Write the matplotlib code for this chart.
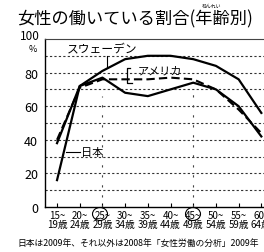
import matplotlib
matplotlib.use("Agg")
import matplotlib.pyplot as plt
from matplotlib.patches import Ellipse

plt.rcParams['font.family'] = ['Noto Sans CJK JP', 'DejaVu Sans']

# ---- data ----
age_top = ["15~", "20~", "25~", "30~", "35~", "40~", "45~", "50~", "55~", "60~"]
age_bottom = ["19歳", "24歳", "29歳", "34歳", "39歳", "44歳", "49歳", "54歳", "59歳", "64歳"]
japan = [16, 72, 77, 68, 66, 70, 74, 70, 60, 42]
usa = [40, 71, 76, 76, 76, 77, 76, 70, 58, 44]
sweden = [38, 72, 81, 88, 90, 90, 88, 84, 76, 56]
y_ticks = [0, 20, 40, 60, 80]
y_top = 100
grid_vals = [10, 20, 30, 40, 50, 60, 70, 80, 90]
title = "女性の働いている割合(年齢別)"
note = "日本は2009年、それ以外は2008年「女性労働の分析」2009年"

W, H = 264, 253
fig = plt.figure(figsize=(W / 100, H / 100), dpi=100)
fig.patch.set_facecolor("white")

def px(x, y):
    return (x / W, 1 - y / H)

ax = fig.add_axes([45 / W, (H - 208) / H, 227 / W, 168 / H])
ax.set_xlim(-0.53, 9.47)
ax.set_ylim(0, y_top)
ax.spines["right"].set_visible(False)
ax.spines["top"].set_color("#444444")
ax.spines["top"].set_linewidth(0.8)
ax.spines["left"].set_linewidth(1.0)
ax.spines["bottom"].set_linewidth(1.0)

for g in grid_vals:
    ax.axhline(g, color="#333333", lw=0.8, ls=(0, (2, 2)), zorder=1)

xs = list(range(len(age_top)))
ax.plot(xs, sweden, color="black", lw=1.6, zorder=3)
ax.plot(xs, japan, color="black", lw=1.6, zorder=3)
ax.plot(xs, usa, color="black", lw=1.5, ls=(0, (4, 2)), zorder=3)

# hand-drawn vertical marks at 25 and 45
ax.plot([2, 2], [0, 66], color="#444444", lw=0.8, ls=(0, (2, 7)), zorder=2)
ax.plot([6, 6], [0, 70], color="#444444", lw=0.8, ls=(0, (2, 7)), zorder=2)

ax.set_yticks(y_ticks)
ax.set_yticklabels([str(v) for v in y_ticks], fontsize=9)
ax.tick_params(axis="y", length=0, pad=5)

ax.set_xticks(xs)
ax.set_xticklabels([f"{a}\n{b}" for a, b in zip(age_top, age_bottom)],
                   fontsize=7, linespacing=0.95)
ax.tick_params(axis="x", direction="in", length=3, pad=2)

# labels
ax.text(1.98, 94, "スウェーデン", fontsize=8.5, ha="center", va="center")
ax.plot([2.2, 2.2], [90, 83], color="black", lw=0.8)
ax.text(4.54, 81, "アメリカ", fontsize=8, ha="center", va="center")
ax.plot([3.2, 3.08, 3.08, 3.3], [83, 83, 74, 74], color="black", lw=0.9)
ax.text(1.05, 33, "日本", fontsize=8, ha="left", va="center")
ax.plot([0.4, 1.0], [33, 33], color="black", lw=0.8)

fig.text(*px(17, 19), title, fontsize=12.4, ha="left", va="center")
fig.text(*px(212, 6), "ねんれい", fontsize=3.5, ha="center", va="center")
fig.text(*px(40, 37), str(y_top), fontsize=8.5, ha="right", va="center")
fig.text(*px(33, 49), "%", fontsize=6.5, ha="center", va="center")
fig.text(*px(17, 243), note, fontsize=6.3, ha="left", va="center")

for cx in (100, 193):
    e = Ellipse(px(cx, 215), 15 / W, 13 / H, transform=fig.transFigure,
                fill=False, ec="black", lw=0.8)
    fig.patches.append(e)

fig.savefig("out.png", dpi=100)
